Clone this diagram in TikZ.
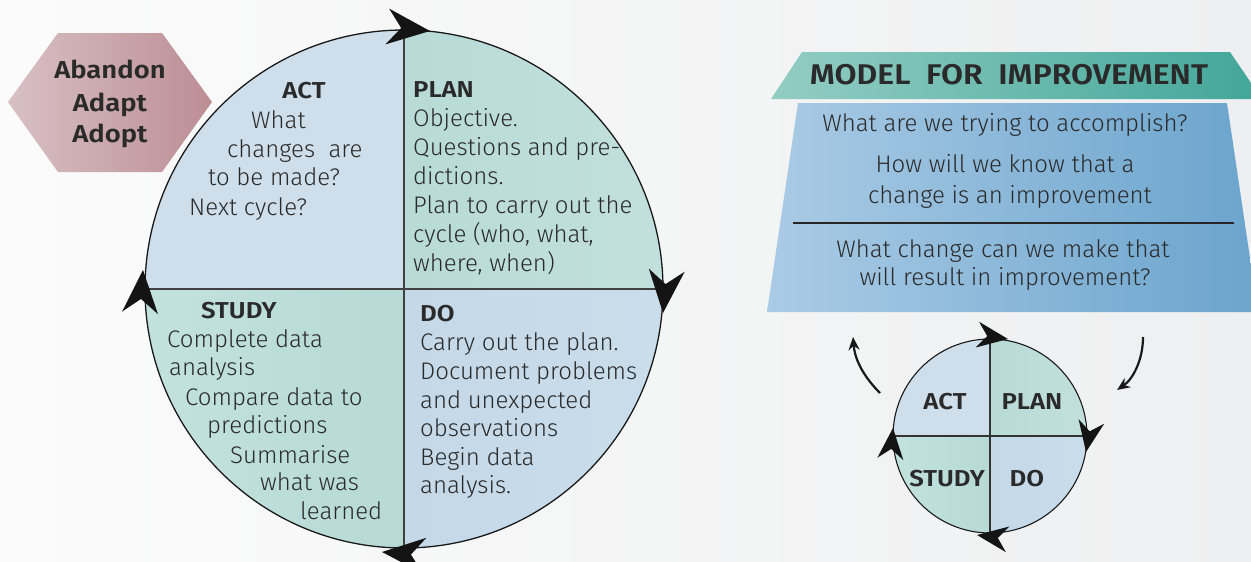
\documentclass[tikz,border=0pt]{standalone}
\usepackage{fontspec}
\setmainfont{Fira Sans Light}[BoldFont={Fira Sans SemiBold}, BoldFeatures={FakeStretch=1.12}]
\usetikzlibrary{arrows.meta}
\definecolor{bgL}{HTML}{FBFBFB}
\definecolor{bgR}{HTML}{EEEFF0}
\definecolor{hexL}{HTML}{D8C0C4}
\definecolor{hexR}{HTML}{BC8E94}
\definecolor{actC}{HTML}{CEDEEA}
\definecolor{planL}{HTML}{B8DBD7}
\definecolor{planR}{HTML}{C2E0DD}
\definecolor{studyL}{HTML}{C2E2DD}
\definecolor{studyR}{HTML}{B7DAD6}
\definecolor{doL}{HTML}{C4D8E8}
\definecolor{doR}{HTML}{CADDEB}
\definecolor{banL}{HTML}{93CDC3}
\definecolor{banR}{HTML}{42A699}
\definecolor{boxL}{HTML}{AACBE5}
\definecolor{boxR}{HTML}{6BA4CD}
\definecolor{txt}{HTML}{2A2A2A}
\tikzset{
  body/.style={inner sep=0pt, text=txt, anchor=base west, font=\fontsize{24}{29}\selectfont},
  bodyc/.style={inner sep=0pt, text=txt, anchor=base, font=\fontsize{24}{29}\selectfont},
  head/.style={inner sep=0pt, text=txt, font=\fontsize{23}{29}\selectfont\bfseries},
  bighead/.pic={\fill[black!92] (0,0) -- (-43,-18) -- (-29,0) -- (-43,18) -- cycle;},
  smallhead/.pic={\fill[black!92] (0,0) -- (-31,-13) -- (-21,0) -- (-31,13) -- cycle;},
  curvearrow/.style={line width=2.2pt, black!90, -{Stealth[length=13pt,width=11pt]}},
}
\begin{document}
\begin{tikzpicture}[x=1pt,y=-1pt]
\useasboundingbox (0,0) rectangle (1251,562);
\shade[left color=bgL, right color=bgR] (0,0) rectangle (1251,562);

% hexagon
\shade[left color=hexL, right color=hexR] (8,102) -- (58,33) -- (162,33) -- (212,102) -- (162,172) -- (58,172) -- cycle;
\node[head, anchor=base, font=\fontsize{24.5}{31}\selectfont\bfseries] (hex) at (110,78) {Abandon};
\node[head, anchor=base, font=\fontsize{24.5}{31}\selectfont\bfseries] (hex2) at (110,111) {Adapt};
\node[head, anchor=base, font=\fontsize{24.5}{31}\selectfont\bfseries] (hex3) at (110,142) {Adopt};

% big circle
\coordinate (C) at (404,289);
\begin{scope}
\clip (C) circle (259pt);
\fill[actC] (140,25) rectangle (404,289);
\shade[left color=planL, right color=planR] (404,25) rectangle (668,289);
\shade[left color=studyL, right color=studyR] (140,289) rectangle (404,553);
\shade[left color=doL, right color=doR] (404,289) rectangle (668,553);
\end{scope}
\draw[black!75, line width=1.5pt] (404,30) -- (404,548);
\draw[black!75, line width=1.5pt] (145,289) -- (663,289);
\draw[black!90, line width=1.3pt] (C) circle (259pt);

\pic[rotate=-6] at (430,31) {bighead};
\pic[rotate=-95] at (663,313) {bighead};
\pic[rotate=175] at (382,552) {bighead};
\pic[rotate=86] at (143,270) {bighead};

% ACT
\node[head, anchor=base] (act) at (304,98) {ACT};
\node[body] (act1) at (251,128) {What};
\node[body] (act2) at (227,157) {changes\ \ are};
\node[body] (act3) at (208,185) {to be made?};
\node[body] (act4) at (189,215) {Next cycle?};

% PLAN
\node[head, anchor=base west] (plan) at (413,97) {PLAN};
\node[body] (pl1) at (413,126) {Objective.};
\node[body] (pl2) at (413,155) {Questions and pre-};
\node[body] (pl3) at (413,184) {dictions.};
\node[body] (pl4) at (413,213) {Plan to carry out the};
\node[body] (pl5) at (413,242) {cycle (who, what,};
\node[body] (pl6) at (413,271) {where, when)};

% STUDY
\node[head, anchor=base west] (study) at (201,318) {STUDY};
\node[body] (st1) at (167,347) {Complete data};
\node[body] (st2) at (169,375) {analysis};
\node[body] (st3) at (185,405) {Compare data to};
\node[body] (st4) at (207,433) {predictions};
\node[body] (st5) at (230,463) {Summarise};
\node[body] (st6) at (260,490) {what was};
\node[body] (st7) at (300,519) {learned};

% DO
\node[head, anchor=base west] (do) at (420,321) {DO};
\node[body] (do1) at (420,350) {Carry out the plan.};
\node[body] (do2) at (420,379) {Document problems};
\node[body] (do3) at (420,408) {and unexpected};
\node[body] (do4) at (420,436) {observations};
\node[body] (do5) at (420,465) {Begin data};
\node[body] (do6) at (420,493) {analysis.};

% right: model for improvement
\shade[left color=banL, right color=banR] (802,52) -- (1230,52) -- (1262,99) -- (771,99) -- cycle;
\shade[left color=boxL, right color=boxR] (798,103) -- (1227,103) -- (1258,312) -- (767,312) -- cycle;
\node[head, anchor=base, font=\fontsize{28.5}{32}\selectfont\bfseries] (model) at (1009,84) {MODEL\ \ FOR\ \ IMPROVEMENT};
\node[bodyc] (q1) at (1005,131) {What are we trying to accomplish?};
\node[bodyc] (q2) at (1005,172) {How will we know that a};
\node[bodyc] (q2b) at (1010,203) {change is an improvement};
\coordinate (lineL) at (793,223);
\coordinate (lineR) at (1234,223);
\draw[black!85, line width=2pt] (lineL) -- (lineR);
\node[bodyc] (q3) at (1003,257) {What change can we make that};
\node[bodyc] (q3b) at (1005,285) {will result in improvement?};

% small circle
\coordinate (c) at (990,436);
\begin{scope}
\clip (c) circle (97pt);
\fill[actC] (890,336) rectangle (990,436);
\shade[left color=planL, right color=planR] (990,336) rectangle (1090,436);
\shade[left color=studyL, right color=studyR] (890,436) rectangle (990,536);
\shade[left color=doL, right color=doR] (990,436) rectangle (1090,536);
\end{scope}
\draw[black!80, line width=1.2pt] (990,339) -- (990,533);
\draw[black!80, line width=1.2pt] (893,436) -- (1087,436);
\draw[black!90, line width=1.1pt] (c) circle (97pt);
\node[head, anchor=base, font=\fontsize{23}{25}\selectfont\bfseries] (sact) at (945,409) {ACT};
\node[head, anchor=base, font=\fontsize{23}{25}\selectfont\bfseries] (splan) at (1032,409) {PLAN};
\node[head, anchor=base, font=\fontsize{23}{25}\selectfont\bfseries] (sstudy) at (947,486) {STUDY};
\node[head, anchor=base, font=\fontsize{23}{25}\selectfont\bfseries] (sdo) at (1027,486) {DO};

\pic[rotate=-8] at (1008,339) {smallhead};
\pic[rotate=-100] at (1086,452) {smallhead};
\pic[rotate=172] at (977,535) {smallhead};
\pic[rotate=85] at (893,428) {smallhead};

\coordinate (la) at (880,393);
\coordinate (lb) at (853,337);
\coordinate (ra) at (1143,337);
\coordinate (rb) at (1117,390);
\draw[curvearrow] (la) .. controls (866,379) and (855,362) .. (lb);
\draw[curvearrow] (ra) .. controls (1143,360) and (1133,379) .. (rb);
\end{tikzpicture}
\end{document}
